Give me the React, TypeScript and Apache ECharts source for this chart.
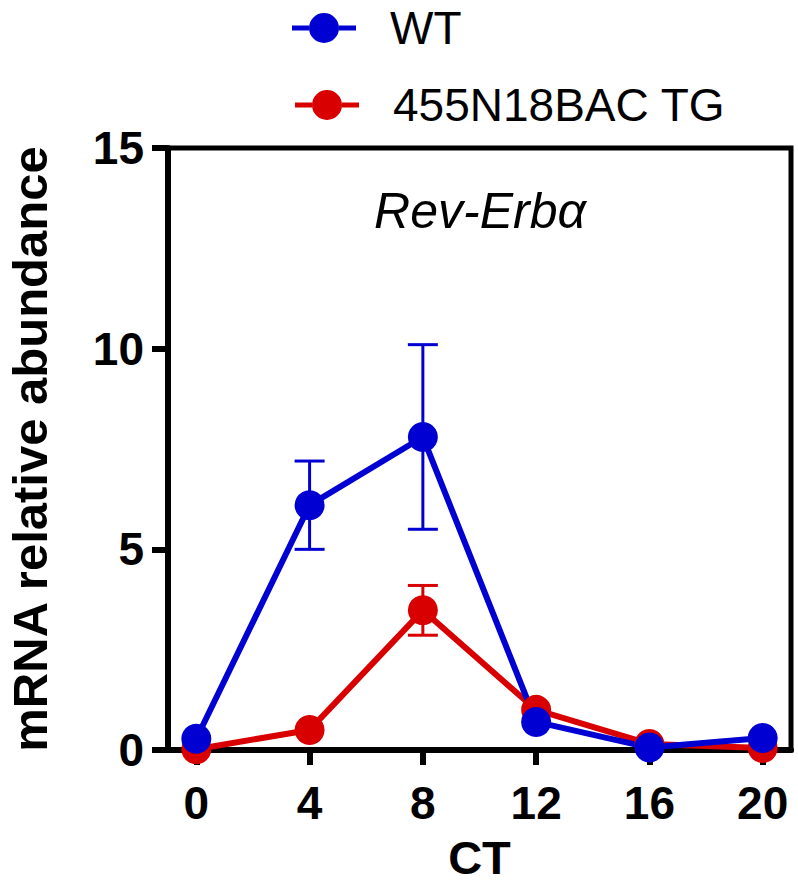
import React, { useEffect, useRef } from "react";
import * as echarts from "echarts";

const ctValues = [0, 4, 8, 12, 16, 20];
const yTicks = [0, 5, 10, 15];
const seriesNames = ["WT", "455N18BAC TG"];
const wtMean = [0.28, 6.1, 7.8, 0.7, 0.06, 0.3];
const wtErr = [0, 1.1, 2.3, 0, 0, 0];
const tgMean = [0.02, 0.5, 3.48, 1.0, 0.15, 0.05];
const tgErr = [0, 0, 0.62, 0, 0, 0];
const geneLabel = "Rev-Erbα";
const xName = "CT";
const yName = "mRNA relative abundance";

const BLUE = "#0000D2";
const RED = "#D80000";
const FONT = "'Liberation Sans', Arial, Helvetica, sans-serif";

const legendIcon =
  "path://M0,12.5H17V17.5H0Z M47,12.5H64V17.5H47Z M17,15A15,15 0 1 1 47,15A15,15 0 1 1 17,15Z";

function errorSeries(name: string, means: number[], errs: number[], color: string) {
  const data = ctValues
    .map((x, i) => [x, means[i] - errs[i], means[i] + errs[i], errs[i]])
    .filter((d) => d[3] > 0);
  return {
    type: "custom",
    name,
    data,
    silent: true,
    renderItem: (_params: any, api: any) => {
      const x = api.value(0);
      const lo = api.coord([x, api.value(1)]);
      const hi = api.coord([x, api.value(2)]);
      const hw = 15;
      const style = { stroke: color, lineWidth: 3, fill: "none" };
      return {
        type: "group",
        children: [
          { type: "line", shape: { x1: lo[0], y1: lo[1], x2: hi[0], y2: hi[1] }, style },
          { type: "line", shape: { x1: hi[0] - hw, y1: hi[1], x2: hi[0] + hw, y2: hi[1] }, style },
          { type: "line", shape: { x1: lo[0] - hw, y1: lo[1], x2: lo[0] + hw, y2: lo[1] }, style },
        ],
      };
    },
  };
}

export default function App() {
  const ref = useRef<HTMLDivElement>(null);
  useEffect(() => {
    document.body.style.margin = "0";
    if (!ref.current) return;
    const chart = echarts.init(ref.current, undefined, { renderer: "svg" });
    const legendBase = {
      orient: "vertical",
      itemWidth: 64,
      itemHeight: 30,
      icon: legendIcon,
      selectedMode: false,
      textStyle: {
        fontSize: 46,
        fontFamily: FONT,
        color: "#000",
        lineHeight: 30,
        padding: [0, 0, 0, 29],
      },
    };
    chart.setOption({
      animation: false,
      backgroundColor: "#fff",
      grid: {
        left: 168,
        right: 7,
        top: 148,
        bottom: 133,
        show: true,
        borderColor: "#000",
        borderWidth: 5,
        outerBoundsMode: "none",
      } as any,
      legend: [
        { ...legendBase, data: [seriesNames[0]], left: 287, top: 0 },
        { ...legendBase, data: [seriesNames[1]], left: 290, top: 77 },
      ],
      graphic: [
        {
          type: "text",
          x: 480,
          y: 211,
          style: {
            text: geneLabel,
            font: `italic 50px ${FONT}`,
            fill: "#000",
            textAlign: "center",
            textVerticalAlign: "middle",
          },
        },
      ],
      xAxis: {
        type: "value",
        min: -1,
        max: 21,
        name: xName,
        nameLocation: "middle",
        nameGap: 90,
        nameTextStyle: { fontSize: 47, fontWeight: "bold", fontFamily: FONT, color: "#000", lineHeight: 34 },
        axisLine: { show: true, onZero: false, lineStyle: { color: "#000", width: 6 } },
        axisTick: { show: true, length: 15, lineStyle: { color: "#000", width: 6 }, customValues: ctValues },
        axisLabel: {
          fontSize: 46,
          fontWeight: "bold",
          fontFamily: FONT,
          color: "#000",
          margin: 30,
          customValues: ctValues,
        },
        splitLine: { show: false },
      },
      yAxis: {
        type: "value",
        min: 0,
        max: 15,
        interval: 5,
        name: yName,
        nameLocation: "middle",
        nameGap: 118,
        nameRotate: 90,
        nameTextStyle: { fontSize: 49, fontWeight: "bold", fontFamily: FONT, color: "#000", lineHeight: 40 },
        axisLine: { show: true, onZero: false, lineStyle: { color: "#000", width: 6 } },
        axisTick: { show: true, length: 16, lineStyle: { color: "#000", width: 6 }, customValues: yTicks },
        axisLabel: {
          fontSize: 46,
          fontWeight: "bold",
          fontFamily: FONT,
          color: "#000",
          margin: 24,
          customValues: yTicks,
        },
        splitLine: { show: false },
      },
      series: [
        {
          type: "line",
          name: seriesNames[1],
          data: ctValues.map((x, i) => [x, tgMean[i]]),
          symbol: "circle",
          symbolSize: 30,
          color: RED,
          lineStyle: { color: RED, width: 6 },
          itemStyle: { color: RED },
        },
        errorSeries(seriesNames[1], tgMean, tgErr, RED),
        {
          type: "line",
          name: seriesNames[0],
          data: ctValues.map((x, i) => [x, wtMean[i]]),
          symbol: "circle",
          symbolSize: 30,
          color: BLUE,
          lineStyle: { color: BLUE, width: 6 },
          itemStyle: { color: BLUE },
        },
        errorSeries(seriesNames[0], wtMean, wtErr, BLUE),
      ],
    });
    return () => chart.dispose();
  }, []);
  return <div ref={ref} style={{ width: 798, height: 883 }} />;
}
